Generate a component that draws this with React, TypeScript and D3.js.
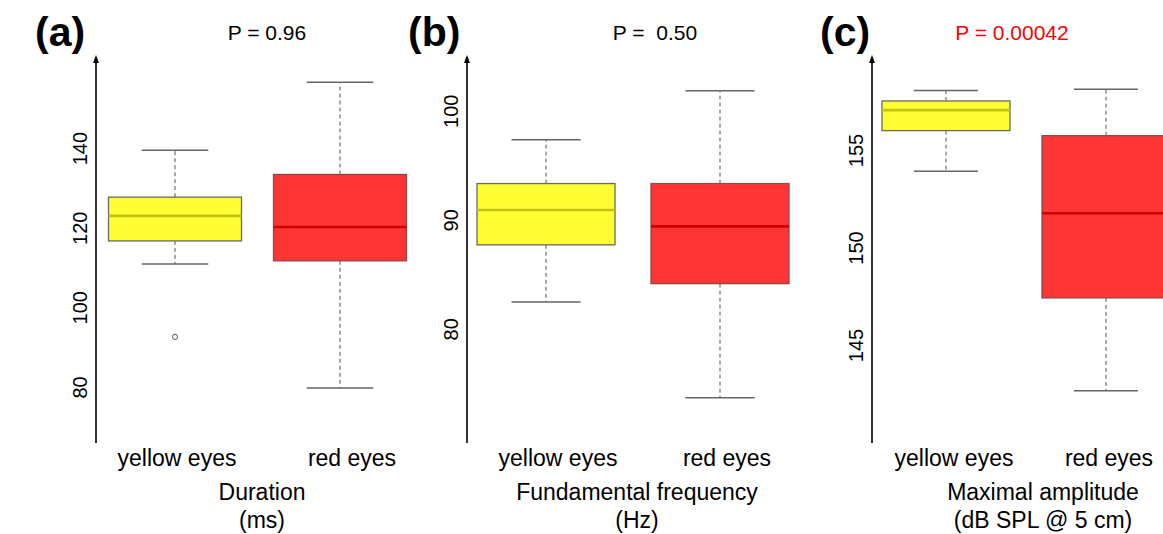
import React from "react";
import * as d3 from "d3";

// ---- data ----
const categories = ["yellow eyes", "red eyes"];

// [lower whisker, Q1, median, Q3, upper whisker]
const durationYellow = [111.0, 116.8, 123.1, 127.8, 139.6];
const durationRed = [79.85, 111.8, 120.3, 133.5, 156.7];
const durationOutliersYellow = [92.7];
const durationOutliersRed: number[] = [];

const freqYellow = [82.5, 87.75, 90.94, 93.37, 97.39];
const freqRed = [73.72, 84.19, 89.44, 93.37, 101.88];

const ampYellow = [153.93, 156.02, 157.07, 157.54, 158.08];
const ampRed = [142.68, 147.44, 151.78, 155.76, 158.14];

const durationTicks = [80, 100, 120, 140];
const freqTicks = [80, 90, 100];
const ampTicks = [145, 150, 155];

const panelLetters = ["(a)", "(b)", "(c)"];
const pLabels = ["P = 0.96", "P =  0.50", "P = 0.00042"];
const titleLine1 = ["Duration", "Fundamental frequency", "Maximal amplitude"];
const titleLine2 = ["(ms)", "(Hz)", "(dB SPL @ 5 cm)"];

// ---- layout ----
const W = 1163;
const H = 534;
const FONT = "'Liberation Sans', Arial, Helvetica, sans-serif";

type PanelCfg = {
  axisX: number;
  centers: [number, number];
  boxW: number;
  yDomain: [number, number];
  yRange: [number, number];
  ticks: number[];
  stats: number[][];
  outliers: number[][];
  letter: string;
  letterX: number;
  pLabel: string;
  pX: number;
  pColor: string;
  catX: [number, number];
  titleX: number;
  title1: string;
  title2: string;
};

const panels: PanelCfg[] = [
  {
    axisX: 96,
    centers: [175, 340],
    boxW: 133,
    yDomain: [80, 140],
    yRange: [387.4, 148.6],
    ticks: durationTicks,
    stats: [durationYellow, durationRed],
    outliers: [durationOutliersYellow, durationOutliersRed],
    letter: panelLetters[0],
    letterX: 35,
    pLabel: pLabels[0],
    pX: 267,
    pColor: "#000",
    catX: [177, 352],
    titleX: 262,
    title1: titleLine1[0],
    title2: titleLine2[0],
  },
  {
    axisX: 467,
    centers: [546, 720],
    boxW: 138,
    yDomain: [80, 100],
    yRange: [329.3, 111.3],
    ticks: freqTicks,
    stats: [freqYellow, freqRed],
    outliers: [[], []],
    letter: panelLetters[1],
    letterX: 408,
    pLabel: pLabels[1],
    pX: 655,
    pColor: "#000",
    catX: [558, 727],
    titleX: 637,
    title1: titleLine1[1],
    title2: titleLine2[1],
  },
  {
    axisX: 872,
    centers: [946, 1106],
    boxW: 128,
    yDomain: [145, 155],
    yRange: [345.5, 150.5],
    ticks: ampTicks,
    stats: [ampYellow, ampRed],
    outliers: [[], []],
    letter: panelLetters[2],
    letterX: 820,
    pLabel: pLabels[2],
    pX: 1012,
    pColor: "#ff0000",
    catX: [954, 1109],
    titleX: 1043,
    title1: titleLine1[2],
    title2: titleLine2[2],
  },
];

const fills = ["#ffff33", "#ff3535"];
const medianColors = ["#c2c214", "#cc0000"];
const borderColors = ["#6a6a5a", "#8a4a4a"];

function Panel({ p }: { p: PanelCfg }) {
  const y = d3.scaleLinear().domain(p.yDomain).range(p.yRange);
  const x = d3.scalePoint<string>().domain(categories).range(p.centers);
  const axisTop = 55;
  const axisBottom = 443;
  return (
    <g>
      {/* axis with arrow */}
      <line x1={p.axisX} x2={p.axisX} y1={axisTop + 4} y2={axisBottom} stroke="#000" strokeWidth={1.6} />
      <path
        d={`M${p.axisX},${axisTop} L${p.axisX - 3},${axisTop + 8} L${p.axisX + 3},${axisTop + 8} Z`}
        fill="#000"
      />
      {p.ticks.map((t) => (
        <text
          key={t}
          transform={`translate(${p.axisX - 9},${y(t)}) rotate(-90)`}
          textAnchor="middle"
          fontSize={20}
          fontFamily={FONT}
          fill="#000"
        >
          {t}
        </text>
      ))}
      {categories.map((c, i) => {
        const s = p.stats[i];
        const cx = x(c) as number;
        const hw = p.boxW / 2;
        const cap = p.boxW / 4;
        return (
          <g key={c}>
            <line x1={cx} x2={cx} y1={y(s[3])} y2={y(s[4])} stroke="#555" strokeWidth={1} strokeDasharray="4,3" />
            <line x1={cx} x2={cx} y1={y(s[1])} y2={y(s[0])} stroke="#555" strokeWidth={1} strokeDasharray="4,3" />
            <line x1={cx - cap} x2={cx + cap} y1={y(s[4])} y2={y(s[4])} stroke="#666" strokeWidth={1.5} />
            <line x1={cx - cap} x2={cx + cap} y1={y(s[0])} y2={y(s[0])} stroke="#666" strokeWidth={1.5} />
            <rect
              x={cx - hw}
              y={y(s[3])}
              width={p.boxW}
              height={y(s[1]) - y(s[3])}
              fill={fills[i]}
              stroke={borderColors[i]}
              strokeWidth={1.3}
            />
            <line x1={cx - hw} x2={cx + hw} y1={y(s[2])} y2={y(s[2])} stroke={medianColors[i]} strokeWidth={2.6} />
            {p.outliers[i].map((o, k) => (
              <circle key={k} cx={cx} cy={y(o)} r={2.6} fill="none" stroke="#555" strokeWidth={1} />
            ))}
          </g>
        );
      })}
      <text x={p.letterX} y={46} fontSize={41} fontWeight="bold" fontFamily={FONT} fill="#000">
        {p.letter}
      </text>
      <text
        x={p.pX}
        y={40}
        fontSize={21}
        fontFamily={FONT}
        fill={p.pColor}
        textAnchor="middle"
        style={{ whiteSpace: "pre" }}
      >
        {p.pLabel}
      </text>
      {categories.map((c, i) => (
        <text key={c} x={p.catX[i]} y={466} fontSize={23} fontFamily={FONT} textAnchor="middle" fill="#000">
          {c}
        </text>
      ))}
      <text x={p.titleX} y={500} fontSize={23} fontFamily={FONT} textAnchor="middle" fill="#000">
        {p.title1}
      </text>
      <text x={p.titleX} y={528} fontSize={23} fontFamily={FONT} textAnchor="middle" fill="#000">
        {p.title2}
      </text>
    </g>
  );
}

export default function App() {
  return (
    <svg
      width={W}
      height={H}
      style={{ position: "absolute", left: 0, top: 0, background: "#fff" }}
      xmlns="http://www.w3.org/2000/svg"
    >
      <rect x={0} y={0} width={W} height={H} fill="#fff" />
      {panels.map((p, i) => (
        <Panel key={i} p={p} />
      ))}
    </svg>
  );
}
